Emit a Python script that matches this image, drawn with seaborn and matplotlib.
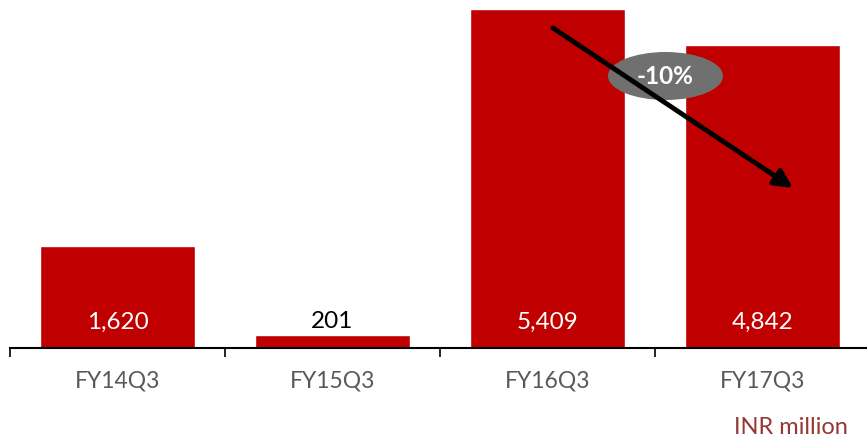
import matplotlib
matplotlib.use("Agg")
import matplotlib.pyplot as plt
import seaborn as sns
import pandas as pd
from matplotlib.patches import Ellipse

categories = ["FY14Q3", "FY15Q3", "FY16Q3", "FY17Q3"]
values = [1620, 201, 5409, 4842]
value_labels = ["1,620", "201", "5,409", "4,842"]
change_label = "-10%"
unit_label = "INR million"

sns.set_theme(style="white")
plt.rcParams['font.family'] = ['Lato', 'DejaVu Sans']

df = pd.DataFrame({"cat": categories, "val": values})

fig = plt.figure(figsize=(8.67, 4.41), dpi=100)
W, H = 867, 441
ax = fig.add_axes([10 / W, 1 - 348 / H, 860 / W, 348 / H])
sns.barplot(data=df, x="cat", y="val", color="#C00000", saturation=1, width=0.72, ax=ax)

ax.set_xlim(-0.5, 3.5)
ax.set_ylim(0, 5409 * 348 / 339)
ax.set_xlabel("")
ax.set_ylabel("")
ax.set_yticks([])
for s in ["top", "right", "left"]:
    ax.spines[s].set_visible(False)
ax.spines["bottom"].set_color("black")
ax.spines["bottom"].set_linewidth(1.5)
ax.set_xticks(range(len(categories)))
ax.set_xticklabels(categories, fontsize=16.5, color="#595959")
ax.tick_params(axis="x", which="major", length=0, pad=16)
ax.set_xticks([i - 0.5 for i in range(len(categories) + 1)], minor=True)
ax.tick_params(axis="x", which="minor", length=6.5, width=1.2, color="black", bottom=True)

label_y = 415
for i, (v, lab) in enumerate(zip(values, value_labels)):
    col = "white" if v > 1000 else "black"
    ax.text(i, label_y, lab, ha="center", va="center", fontsize=17.5, color=col)

# arrow and ellipse in figure pixel coordinates
ax_f = fig.add_axes([0, 0, 1, 1], facecolor="none")
ax_f.set_xlim(0, W)
ax_f.set_ylim(H, 0)
ax_f.axis("off")
ax_f.annotate("", xy=(793, 188), xytext=(553, 28),
              arrowprops=dict(arrowstyle="-|>,head_length=0.9,head_width=0.45",
                              color="black", lw=3.5, shrinkA=0, shrinkB=0))
ax_f.add_patch(Ellipse((665.5, 76), 115, 48, facecolor="#707070", edgecolor="none"))
ax_f.text(665.5, 77, change_label, ha="center", va="center", fontsize=17.5,
          color="white", fontweight="bold")
ax_f.text(848, 428, unit_label, ha="right", va="center", fontsize=17, color="#953735")

fig.savefig("out.png", dpi=100)
